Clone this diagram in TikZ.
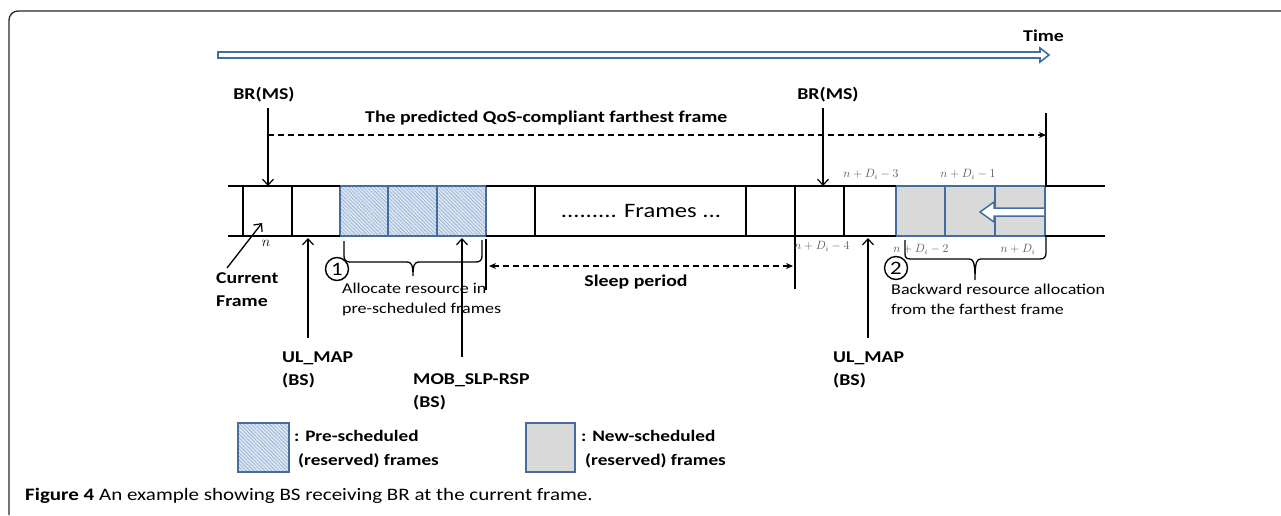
\documentclass[tikz,border=0pt]{standalone}
\usepackage{fontspec}
\setmainfont[FakeStretch=1.2]{Carlito}
\usetikzlibrary{patterns.meta,arrows.meta}
\definecolor{bbl}{RGB}{68,108,160}
\definecolor{hatchbg}{RGB}{218,229,243}
\definecolor{hatchln}{RGB}{150,174,208}
\definecolor{newgray}{RGB}{217,217,217}
\definecolor{labgray}{RGB}{85,85,85}
\begin{document}
\begin{tikzpicture}[x=1pt,y=-1pt,
  lbl/.style={font=\fontsize{16.5}{23}\selectfont\bfseries, inner sep=0pt, align=left},
  note/.style={font=\fontsize{15}{20}\selectfont, inner sep=0pt, align=left},
  idx/.style={font=\fontsize{12}{13}\selectfont, text=labgray, inner sep=0pt},
  arr/.style={-{Straight Barb[length=6pt,width=11pt,line width=1.2pt]}, line width=1.3pt},
  thickln/.style={line width=2.6pt},
  prebox/.style={draw=bbl, line width=1.8pt, preaction={fill=hatchbg}, pattern={Lines[angle=-45,distance=2.6pt,line width=0.6pt]}, pattern color=hatchln},
  newbox/.style={draw=bbl, line width=1.8pt, fill=newgray},
  numcirc/.style={circle, draw, line width=1.4pt, minimum size=23pt, inner sep=0pt, font=\fontsize{19}{19}\selectfont}
]
\useasboundingbox (0,0) rectangle (1281,515);
% outer frame
\draw[line width=1.3pt, draw=black!85, rounded corners=9pt] (9,515) -- (9,11) -- (1281,11);

% time arrow
\draw[draw=bbl, line width=1.6pt, fill=white] (218,52) -- (1040,52) -- (1040,48) -- (1049,55) -- (1040,62) -- (1040,58) -- (218,58) -- cycle;
\node[lbl, anchor=west] (time) at (1023,36) {Time};

% strip: coloured boxes
\foreach \a/\b in {340/388,388/437,437/486} \draw[prebox] (\a,186) rectangle (\b,236);
\foreach \a/\b in {896/945,945/995,995/1045} \draw[newbox] (\a,186) rectangle (\b,236);
% strip lines
\draw[thickln] (228,186) -- (340,186) (486,186) -- (896,186) (1045,186) -- (1105,186);
\draw[thickln] (228,236) -- (340,236) (486,236) -- (896,236) (1045,236) -- (1105,236);
\foreach \x in {243,292,535,746,795,844} \draw[thickln] (\x,186) -- (\x,236);
\node[font=\fontsize{20.5}{21}\selectfont, inner sep=0pt] (frames) at (641,211) {......... Frames ...};

% backward white arrow
\draw[draw=bbl, line width=1.5pt, fill=white] (1044,208) -- (994,208) -- (994,202) -- (980,212) -- (994,222) -- (994,216) -- (1044,216);

% predicted farthest frame
\node[lbl, anchor=west] (pred) at (365,118) {The predicted QoS-compliant farthest frame};
\coordinate (farL) at (268,135);
\coordinate (farR) at (1046,135);
\draw[line width=1.4pt, dash pattern=on 6pt off 4pt, -{Stealth[length=7pt,width=6pt]}] (farL) -- (farR);

% BR(MS) left
\node[lbl] (br1) at (264,95) {BR(MS)};
\coordinate (br1t) at (268,186);
\draw[arr] (br1.south -| br1t) ++(0,5) -- (br1t);
% BR(MS) right
\node[lbl] (br2) at (828,95) {BR(MS)};
\coordinate (br2t) at (823,186);
\draw[arr] (br2.south -| br2t) ++(0,5) -- (br2t);

% n and current frame
\node[font=\fontsize{15}{15}\selectfont, inner sep=0pt] (nlab) at (266,243) {$n$};
\node[lbl, align=left, anchor=west] (cur) at (216,290) {Current\\Frame};
\coordinate (curt) at (262,223);
\draw[arr] (227,268) -- (curt);

% UL_MAP left
\node[lbl, anchor=west] (ul1) at (282,370) {UL\_MAP\\(BS)};
\coordinate (ul1t) at (308,238);
\draw[arr] (308,338) -- (ul1t);
% MOB_SLP-RSP
\node[lbl, anchor=west] (mob) at (413,392) {MOB\_SLP-RSP\\(BS)};
\coordinate (mobt) at (462,238);
\draw[arr] (462,357) -- (mobt);
% UL_MAP right
\node[lbl, anchor=west] (ul2) at (833,370) {UL\_MAP\\(BS)};
\coordinate (ul2t) at (868,238);
\draw[arr] (868,338) -- (ul2t);

% brace 1
\node[numcirc] (c1) at (337,269) {1};
\draw[line width=1.3pt] (344,241) -- (344,256) .. controls (344,260) and (346,262) .. (350,262) -- (407,262) .. controls (411,262) and (413,264) .. (413,276) .. controls (413,264) and (415,262) .. (419,262) -- (476,262) .. controls (480,262) and (482,260) .. (482,256) -- (482,240);
\node[note, anchor=west] (alloc) at (342,299) {Allocate resource in\\pre-scheduled frames};

% sleep period
\coordinate (slL) at (486,266);
\coordinate (slR) at (795,266);
\draw[line width=1.3pt] (486,239) -- (486,290);
\draw[line width=1.3pt] (795,237) -- (795,289);
\draw[line width=1.4pt, dash pattern=on 6pt off 4pt, {Stealth[length=7pt,width=6pt]}-{Stealth[length=7pt,width=6pt]}] ([xshift=3pt]slL) -- ([xshift=-2pt]slR);
\node[lbl] (sleep) at (636,282) {Sleep period};

% brace 2 + farthest vertical
\node[numcirc] (c2) at (896,268) {2};
\draw[line width=1.3pt] (905,240) -- (905,254) .. controls (905,258) and (907,259) .. (911,259) -- (969,259) .. controls (973,259) and (975,261) .. (975,280) .. controls (975,261) and (977,259) .. (981,259) -- (1040,259) .. controls (1044,259) and (1046,257) .. (1046,253) -- (1046,236);
\draw[line width=1.3pt] (1046,113) -- (1046,186);
\node[note, anchor=west] (backw) at (891,299) {Backward resource allocation\\from the farthest frame};

% index labels
\node[idx] (i4) at (822,246) {$n+D_i-4$};
\node[idx] (i3) at (871,174) {$n+D_i-3$};
\node[idx] (i1) at (968,174) {$n+D_i-1$};
\node[idx] (i2) at (921,249) {$n+D_i-2$};
\node[idx] (i0) at (1018,249) {$n+D_i$};

% legend
\draw[prebox] (238,423) rectangle (289,472);
\node[lbl, anchor=west, font=\fontsize{16}{24}\selectfont\bfseries] (leg1) at (294,449) {: Pre-scheduled\\\hspace*{4pt}(reserved) frames};
\draw[newbox] (526,423) rectangle (575,472);
\node[lbl, anchor=west, font=\fontsize{16}{24}\selectfont\bfseries] (leg2) at (581,449) {: New-scheduled\\\hspace*{4pt}(reserved) frames};

% caption
\node[anchor=west, inner sep=0pt, font=\fontsize{17.5}{17.5}\selectfont] (cap) at (25,496) {\textbf{Figure 4} An example showing BS receiving BR at the current frame.};
\end{tikzpicture}
\end{document}
